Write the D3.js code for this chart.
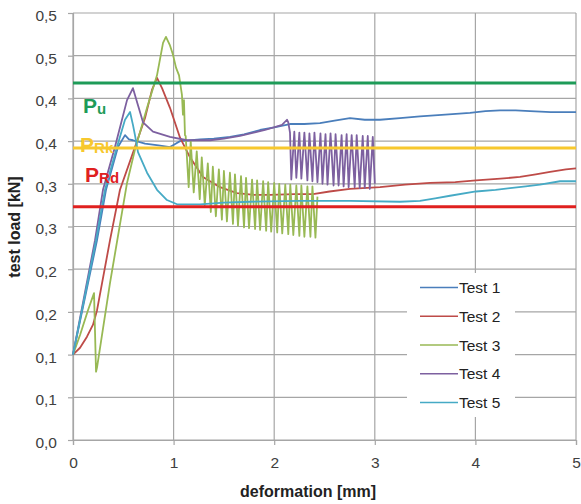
<!DOCTYPE html>
<html>
<head>
<meta charset="utf-8">
<script src="https://cdn.jsdelivr.net/npm/d3@7"></script>
<style>
  html, body { margin: 0; padding: 0; background: #fff; }
  svg { display: block; font-family: "Liberation Sans", Arial, sans-serif; }
</style>
</head>
<body>
<svg id="chart" width="581" height="504"></svg>
<script>
// ---------- DATA ----------
const xTicks = [0, 1, 2, 3, 4, 5];
const xTickLabels = ["0", "1", "2", "3", "4", "5"];
const yTicks = [0, 0.05, 0.1, 0.15, 0.2, 0.25, 0.3, 0.35, 0.4, 0.45, 0.5];
const yTickLabels = ["0,0", "0,1", "0,1", "0,2", "0,2", "0,3", "0,3", "0,4", "0,4", "0,5", "0,5"];

const seriesNames = ["Test 1", "Test 2", "Test 3", "Test 4", "Test 5"];
const seriesColors = ["#4a7ebb", "#be4b48", "#98b954", "#7d60a0", "#46aac5"];

const test1 = [[0,0.100],[0.239,0.234],[0.328,0.293],[0.447,0.343],[0.517,0.357],[0.556,0.352],[0.596,0.351],
  [0.716,0.347],[0.85,0.345],[0.964,0.343],[1.02,0.347],[1.064,0.350],[1.262,0.352],[1.40,0.353],[1.561,0.355],
  [1.70,0.358],[1.859,0.363],[2.00,0.366],[2.157,0.370],[2.30,0.370],[2.455,0.371],[2.60,0.374],[2.753,0.377],
  [2.90,0.375],[3.052,0.375],[3.25,0.377],[3.449,0.379],[3.70,0.381],[3.946,0.383],[4.10,0.385],[4.245,0.386],
  [4.40,0.386],[4.543,0.385],[4.75,0.384],[5.0,0.384]];

const test2 = [[0,0.100],[0.07,0.108],[0.139,0.121],[0.199,0.135],[0.239,0.152],[0.368,0.234],[0.467,0.293],
  [0.616,0.343],[0.716,0.377],[0.785,0.410],[0.835,0.424],[0.885,0.412],[0.964,0.389],[1.064,0.354],[1.163,0.331],
  [1.292,0.308],[1.461,0.296],[1.630,0.289],[1.80,0.287],[1.958,0.287],[2.20,0.288],[2.386,0.288],[2.55,0.291],
  [2.753,0.294],[3.052,0.296],[3.30,0.299],[3.549,0.301],[3.80,0.302],[4.006,0.304],[4.25,0.306],[4.443,0.308],
  [4.60,0.311],[4.742,0.314],[4.90,0.317],[5.0,0.318]];

const test3 = [[0,0.100],[0.07,0.123],[0.149,0.152],[0.209,0.172],[0.229,0.080],[0.239,0.085],[0.368,0.184],
  [0.537,0.301],[0.616,0.340],[0.736,0.389],[0.835,0.427],[0.895,0.465],[0.924,0.472],[0.964,0.462],[0.994,0.451],
  [1.024,0.436],[1.054,0.427],[1.083,0.404],[1.093,0.381],[1.103,0.398],[1.113,0.357],
  [1.12,0.356],[1.15,0.296],[1.17,0.350],[1.20,0.290],[1.23,0.338],[1.26,0.282],[1.28,0.331],[1.31,0.275],
  [1.34,0.324],[1.37,0.267],[1.39,0.320],[1.42,0.262],[1.45,0.317],[1.48,0.258],[1.50,0.315],[1.53,0.256],
  [1.56,0.313],[1.59,0.253],[1.61,0.311],[1.64,0.251],[1.67,0.309],[1.70,0.249],[1.72,0.307],[1.75,0.248],
  [1.78,0.305],[1.81,0.247],[1.83,0.304],[1.86,0.246],[1.89,0.303],[1.92,0.245],[1.94,0.302],[1.97,0.244],
  [2.00,0.301],[2.03,0.243],[2.05,0.300],[2.08,0.242],[2.11,0.299],[2.14,0.241],[2.16,0.299],[2.19,0.240],
  [2.22,0.298],[2.25,0.239],[2.27,0.298],[2.30,0.238],[2.33,0.297],[2.36,0.238],[2.38,0.297],[2.41,0.237],
  [2.43,0.285]];

const test4 = [[0,0.100],[0.219,0.234],[0.298,0.293],[0.417,0.343],[0.537,0.398],[0.596,0.412],[0.646,0.392],
  [0.696,0.372],[0.795,0.361],[0.964,0.355],[1.133,0.351],[1.362,0.351],[1.50,0.353],[1.660,0.356],[1.909,0.363],
  [2.078,0.369],[2.127,0.375],[2.14,0.372],[2.157,0.360],
  [2.17,0.305],[2.20,0.361],[2.22,0.307],[2.25,0.360],[2.27,0.306],[2.30,0.360],[2.33,0.304],[2.35,0.359],
  [2.38,0.303],[2.40,0.360],[2.43,0.302],[2.46,0.359],[2.48,0.300],[2.51,0.358],[2.53,0.299],[2.56,0.359],
  [2.59,0.298],[2.61,0.358],[2.64,0.298],[2.67,0.357],[2.69,0.297],[2.72,0.358],[2.74,0.296],[2.77,0.357],
  [2.80,0.296],[2.82,0.357],[2.85,0.295],[2.88,0.356],[2.90,0.295],[2.93,0.356],[2.95,0.294],[2.98,0.355],
  [3.0,0.300]];

const test5 = [[0,0.100],[0.229,0.234],[0.318,0.293],[0.437,0.343],[0.517,0.375],[0.567,0.384],[0.596,0.369],
  [0.616,0.357],[0.646,0.337],[0.736,0.313],[0.835,0.293],[0.934,0.281],[1.034,0.276],[1.262,0.276],
  [1.50,0.278],[1.759,0.279],[2.256,0.280],[2.753,0.280],[3.25,0.279],[3.449,0.280],[3.60,0.283],[3.748,0.286],
  [4.006,0.291],[4.20,0.293],[4.344,0.295],[4.50,0.297],[4.642,0.299],[4.841,0.303],[5.0,0.303]];

const refNames = ["u", "Rk", "Rd"];
const refValues = [0.418, 0.342, 0.273];
const refColors = ["#1e9b58", "#f7c82e", "#e0201f"];
const refLabelY = [0.383, 0.337, 0.302];
const refLabelX = [0.10, 0.07, 0.12];

const xTitle = "deformation [mm]";
const yTitle = "test load [kN]";

// ---------- CHART ----------
const svg = d3.select("#chart");
const x = d3.scaleLinear().domain([0, 5]).range([73, 576]);
const y = d3.scaleLinear().domain([0, 0.5]).range([440, 13]);
const gridColor = "#a6a6a6";
const textColor = "#404040";

// gridlines
svg.append("g").selectAll("line.h").data(yTicks).join("line")
  .attr("x1", x(0)).attr("x2", x(5))
  .attr("y1", d => y(d)).attr("y2", d => y(d))
  .attr("stroke", gridColor).attr("stroke-width", 1.2);
svg.append("g").selectAll("line.v").data(xTicks).join("line")
  .attr("y1", y(0)).attr("y2", y(0.5))
  .attr("x1", d => x(d)).attr("x2", d => x(d))
  .attr("stroke", gridColor).attr("stroke-width", 1.2);

// axes
const yAxis = d3.axisLeft(y).tickValues(yTicks).tickFormat((d, i) => yTickLabels[i])
  .tickSize(5).tickPadding(11);
const gy = svg.append("g").attr("transform", `translate(${x(0)},0)`).call(yAxis);
const xAxis = d3.axisBottom(x).tickValues(xTicks).tickFormat((d, i) => xTickLabels[i])
  .tickSize(5).tickPadding(16);
const gx = svg.append("g").attr("transform", `translate(0,${y(0)})`).call(xAxis);
[gx, gy].forEach(g => {
  g.select(".domain").attr("stroke", gridColor).attr("stroke-width", 1.2);
  g.selectAll(".tick line").attr("stroke", gridColor).attr("stroke-width", 1.2);
  g.selectAll(".tick text").attr("fill", textColor)
    .style("font-family", '"Liberation Sans", Arial, sans-serif').style("font-size", "15.5px");
});
gy.selectAll(".tick text").attr("dy", "0.48em");
gx.selectAll(".tick text").attr("dy", "0.45em");

// series
const allSeries = [test1, test2, test3, test4, test5];
const line = d3.line().x(d => x(d[0])).y(d => y(d[1]));
svg.append("g").selectAll("path").data(allSeries).join("path")
  .attr("d", line)
  .attr("fill", "none")
  .attr("stroke", (d, i) => seriesColors[i])
  .attr("stroke-width", 1.8)
  .attr("stroke-linejoin", "round");

// reference lines
svg.append("g").selectAll("line").data(refValues).join("line")
  .attr("x1", x(0)).attr("x2", x(5))
  .attr("y1", d => y(d)).attr("y2", d => y(d))
  .attr("stroke", (d, i) => refColors[i]).attr("stroke-width", 3);

// reference labels
refNames.forEach((n, i) => {
  const t = svg.append("text")
    .attr("x", x(refLabelX[i])).attr("y", y(refLabelY[i]))
    .attr("fill", refColors[i])
    .style("font-weight", "bold")
    .style("font-size", "21px");
  t.append("tspan").text("P");
  t.append("tspan").text(n).style("font-size", "15px").attr("dy", 1);
});

// legend
const lg = svg.append("g");
lg.append("rect").attr("x", 407).attr("y", 273).attr("width", 108).attr("height", 144).attr("fill", "#fff");
seriesNames.forEach((n, i) => {
  const cy = 287.5 + i * 28.75;
  lg.append("line").attr("x1", 420).attr("x2", 458).attr("y1", cy).attr("y2", cy)
    .attr("stroke", seriesColors[i]).attr("stroke-width", 1.5);
  lg.append("text").attr("x", 459).attr("y", cy + 5.5).text(n)
    .attr("fill", "#222").style("font-size", "15.5px");
});

// axis titles
svg.append("text").attr("x", 308).attr("y", 497).attr("text-anchor", "middle")
  .attr("fill", "#222").style("font-weight", "bold").style("font-size", "16px").text(xTitle);
svg.append("text").attr("transform", "translate(20,227) rotate(-90)").attr("text-anchor", "middle")
  .attr("fill", "#222").style("font-weight", "bold").style("font-size", "16px").text(yTitle);
</script>
</body>
</html>
